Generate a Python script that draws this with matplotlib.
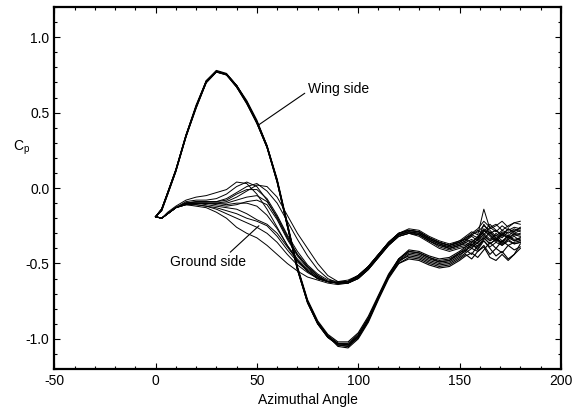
import matplotlib
matplotlib.use('Agg')
import matplotlib.pyplot as plt
from matplotlib.ticker import MultipleLocator

plt.rcParams['font.family'] = ['Liberation Sans', 'DejaVu Sans']
plt.rcParams['mathtext.fontset'] = 'custom'
plt.rcParams['mathtext.rm'] = 'Liberation Sans'
plt.rcParams['axes.unicode_minus'] = False

# azimuthal angle of the pressure taps
angle = [0, 3, 6, 10, 15, 20, 25, 30, 35, 40, 45, 50, 55, 60, 65, 70, 75, 80, 85, 90,
         95, 100, 105, 110, 115, 120, 125, 130, 135, 140, 145, 150,
         153, 156, 159, 162, 165, 168, 171, 174, 177, 180]

# Cp on the wing side, one list per spanwise station
wing_side = [
    [-0.19, -0.14, -0.03, 0.12, 0.35, 0.54, 0.71, 0.775, 0.755, 0.68, 0.57, 0.44, 0.28, 0.05, -0.24, -0.53, -0.75, -0.89, -0.98, -1.04,
     -1.05, -0.99, -0.88, -0.73, -0.58, -0.47, -0.41, -0.42, -0.45, -0.47, -0.46, -0.42,
     -0.39, -0.36, -0.33, -0.28, -0.31, -0.35, -0.30, -0.33, -0.31, -0.32],
    [-0.19, -0.14, -0.03, 0.12, 0.34, 0.54, 0.70, 0.77, 0.755, 0.68, 0.57, 0.44, 0.27, 0.04, -0.25, -0.54, -0.76, -0.90, -0.99, -1.03,
     -1.03, -0.97, -0.86, -0.72, -0.58, -0.48, -0.43, -0.44, -0.47, -0.49, -0.48, -0.44,
     -0.42, -0.37, -0.40, -0.34, -0.29, -0.33, -0.36, -0.31, -0.35, -0.33],
    [-0.19, -0.15, -0.04, 0.11, 0.34, 0.53, 0.70, 0.77, 0.75, 0.67, 0.56, 0.43, 0.27, 0.04, -0.25, -0.54, -0.76, -0.90, -0.99, -1.04,
     -1.04, -0.98, -0.87, -0.73, -0.59, -0.49, -0.44, -0.45, -0.48, -0.50, -0.49, -0.45,
     -0.41, -0.44, -0.38, -0.35, -0.40, -0.45, -0.42, -0.47, -0.44, -0.40],
    [-0.19, -0.14, -0.03, 0.12, 0.35, 0.55, 0.71, 0.78, 0.76, 0.68, 0.58, 0.45, 0.28, 0.06, -0.23, -0.52, -0.74, -0.88, -0.97, -1.02,
     -1.02, -0.96, -0.85, -0.71, -0.57, -0.47, -0.42, -0.43, -0.46, -0.48, -0.47, -0.43,
     -0.40, -0.38, -0.34, -0.24, -0.30, -0.28, -0.32, -0.27, -0.29, -0.26],
    [-0.19, -0.15, -0.04, 0.11, 0.34, 0.54, 0.70, 0.77, 0.755, 0.67, 0.57, 0.43, 0.27, 0.05, -0.24, -0.53, -0.75, -0.89, -0.98, -1.03,
     -1.04, -0.98, -0.87, -0.72, -0.58, -0.48, -0.45, -0.46, -0.49, -0.51, -0.50, -0.46,
     -0.43, -0.40, -0.42, -0.38, -0.44, -0.40, -0.43, -0.38, -0.41, -0.39],
    [-0.19, -0.14, -0.03, 0.12, 0.35, 0.54, 0.71, 0.775, 0.755, 0.68, 0.57, 0.44, 0.28, 0.05, -0.24, -0.53, -0.75, -0.89, -0.98, -1.05,
     -1.06, -1.00, -0.89, -0.74, -0.60, -0.50, -0.46, -0.47, -0.50, -0.52, -0.51, -0.47,
     -0.44, -0.47, -0.42, -0.39, -0.46, -0.48, -0.44, -0.48, -0.44, -0.37],
    [-0.19, -0.15, -0.04, 0.11, 0.34, 0.53, 0.70, 0.77, 0.75, 0.67, 0.56, 0.43, 0.27, 0.04, -0.25, -0.54, -0.76, -0.90, -0.99, -1.04,
     -1.05, -0.99, -0.88, -0.73, -0.59, -0.50, -0.47, -0.48, -0.51, -0.53, -0.52, -0.48,
     -0.45, -0.43, -0.46, -0.41, -0.36, -0.40, -0.35, -0.38, -0.36, -0.35],
    [-0.19, -0.14, -0.03, 0.12, 0.35, 0.54, 0.71, 0.775, 0.755, 0.68, 0.57, 0.44, 0.28, 0.05, -0.24, -0.53, -0.75, -0.89, -0.98, -1.03,
     -1.04, -0.98, -0.87, -0.72, -0.58, -0.47, -0.42, -0.43, -0.46, -0.49, -0.48, -0.43,
     -0.41, -0.39, -0.36, -0.33, -0.37, -0.34, -0.38, -0.35, -0.37, -0.36],
]

# Cp on the ground side
ground_side = [
    [-0.19, -0.20, -0.16, -0.12, -0.08, -0.06, -0.05, -0.03, -0.01, 0.04, 0.03, -0.04, -0.14, -0.26, -0.38, -0.48, -0.55, -0.60, -0.62, -0.63,
     -0.62, -0.58, -0.52, -0.44, -0.36, -0.30, -0.28, -0.29, -0.33, -0.36, -0.38, -0.36,
     -0.33, -0.30, -0.27, -0.22, -0.26, -0.24, -0.28, -0.25, -0.23, -0.24],
    [-0.19, -0.20, -0.17, -0.13, -0.09, -0.08, -0.08, -0.07, -0.04, 0.01, 0.04, 0.01, -0.08, -0.20, -0.33, -0.44, -0.52, -0.58, -0.62, -0.63,
     -0.62, -0.59, -0.53, -0.45, -0.37, -0.31, -0.29, -0.30, -0.34, -0.37, -0.39, -0.37,
     -0.35, -0.31, -0.33, -0.29, -0.24, -0.28, -0.31, -0.27, -0.30, -0.28],
    [-0.19, -0.20, -0.17, -0.13, -0.10, -0.09, -0.09, -0.09, -0.07, -0.03, 0.01, 0.03, -0.02, -0.10, -0.22, -0.34, -0.45, -0.54, -0.60, -0.63,
     -0.63, -0.59, -0.53, -0.45, -0.37, -0.31, -0.29, -0.31, -0.35, -0.38, -0.40, -0.38,
     -0.36, -0.34, -0.37, -0.32, -0.35, -0.30, -0.33, -0.29, -0.31, -0.30],
    [-0.19, -0.20, -0.17, -0.13, -0.10, -0.10, -0.10, -0.10, -0.09, -0.06, -0.02, 0.02, 0.01, -0.06, -0.18, -0.30, -0.40, -0.50, -0.58, -0.62,
     -0.62, -0.58, -0.52, -0.44, -0.36, -0.30, -0.28, -0.29, -0.33, -0.36, -0.38, -0.35,
     -0.32, -0.29, -0.31, -0.14, -0.27, -0.25, -0.22, -0.26, -0.23, -0.22],
    [-0.19, -0.20, -0.17, -0.13, -0.10, -0.09, -0.09, -0.09, -0.08, -0.04, -0.01, -0.01, -0.07, -0.18, -0.31, -0.42, -0.51, -0.57, -0.61, -0.62,
     -0.61, -0.58, -0.52, -0.44, -0.36, -0.30, -0.27, -0.28, -0.32, -0.35, -0.37, -0.35,
     -0.34, -0.36, -0.32, -0.27, -0.30, -0.34, -0.29, -0.32, -0.28, -0.27],
    [-0.19, -0.20, -0.17, -0.13, -0.10, -0.10, -0.10, -0.10, -0.10, -0.08, -0.06, -0.05, -0.09, -0.19, -0.32, -0.44, -0.52, -0.58, -0.62, -0.63,
     -0.63, -0.60, -0.54, -0.46, -0.38, -0.32, -0.30, -0.31, -0.35, -0.38, -0.40, -0.38,
     -0.37, -0.40, -0.36, -0.30, -0.34, -0.31, -0.35, -0.32, -0.34, -0.33],
    [-0.19, -0.20, -0.17, -0.13, -0.10, -0.10, -0.10, -0.11, -0.12, -0.11, -0.09, -0.08, -0.11, -0.21, -0.34, -0.45, -0.53, -0.59, -0.62, -0.63,
     -0.62, -0.59, -0.53, -0.45, -0.37, -0.31, -0.29, -0.30, -0.34, -0.37, -0.39, -0.37,
     -0.35, -0.32, -0.35, -0.28, -0.32, -0.36, -0.31, -0.33, -0.30, -0.31],
    [-0.19, -0.20, -0.17, -0.13, -0.11, -0.10, -0.10, -0.10, -0.11, -0.10, -0.10, -0.12, -0.18, -0.27, -0.38, -0.47, -0.54, -0.59, -0.62, -0.63,
     -0.62, -0.58, -0.52, -0.44, -0.36, -0.30, -0.28, -0.29, -0.33, -0.36, -0.38, -0.36,
     -0.34, -0.31, -0.29, -0.25, -0.28, -0.32, -0.28, -0.30, -0.27, -0.29],
    [-0.19, -0.20, -0.17, -0.13, -0.11, -0.11, -0.12, -0.13, -0.15, -0.17, -0.20, -0.22, -0.25, -0.32, -0.41, -0.49, -0.55, -0.60, -0.62, -0.63,
     -0.63, -0.60, -0.54, -0.46, -0.38, -0.32, -0.30, -0.31, -0.35, -0.39, -0.41, -0.39,
     -0.38, -0.35, -0.39, -0.33, -0.37, -0.34, -0.36, -0.33, -0.35, -0.34],
    [-0.19, -0.20, -0.17, -0.13, -0.11, -0.11, -0.12, -0.14, -0.17, -0.20, -0.23, -0.26, -0.30, -0.36, -0.44, -0.51, -0.56, -0.60, -0.62, -0.63,
     -0.62, -0.59, -0.53, -0.45, -0.37, -0.31, -0.29, -0.30, -0.34, -0.37, -0.40, -0.38,
     -0.36, -0.38, -0.34, -0.31, -0.35, -0.33, -0.37, -0.34, -0.32, -0.35],
    [-0.19, -0.20, -0.17, -0.13, -0.11, -0.12, -0.13, -0.16, -0.20, -0.26, -0.30, -0.33, -0.38, -0.44, -0.50, -0.55, -0.59, -0.61, -0.63, -0.64,
     -0.63, -0.60, -0.54, -0.46, -0.38, -0.32, -0.30, -0.32, -0.36, -0.40, -0.42, -0.40,
     -0.39, -0.37, -0.41, -0.35, -0.39, -0.36, -0.38, -0.34, -0.37, -0.36],
    [-0.19, -0.20, -0.17, -0.13, -0.10, -0.10, -0.11, -0.12, -0.13, -0.14, -0.17, -0.21, -0.24, -0.30, -0.39, -0.48, -0.55, -0.60, -0.62, -0.63,
     -0.62, -0.58, -0.52, -0.44, -0.36, -0.30, -0.28, -0.29, -0.33, -0.36, -0.38, -0.36,
     -0.33, -0.31, -0.28, -0.31, -0.26, -0.29, -0.25, -0.28, -0.26, -0.27],
]

fig = plt.figure(figsize=(5.77, 4.17), dpi=100)
ax = fig.add_axes([0.094, 0.115, 0.878, 0.868])

for cp in wing_side:
    ax.plot(angle, cp, color='black', linewidth=0.8)
for cp in ground_side:
    ax.plot(angle, cp, color='black', linewidth=0.7)

ax.set_xlim(-50, 200)
ax.set_ylim(-1.2, 1.2)
ax.xaxis.set_major_locator(MultipleLocator(50))
ax.xaxis.set_minor_locator(MultipleLocator(10))
ax.yaxis.set_major_locator(MultipleLocator(0.5))
ax.yaxis.set_minor_locator(MultipleLocator(0.1))
ax.yaxis.set_major_formatter(plt.FormatStrFormatter('%.1f'))
ax.tick_params(which='both', direction='in', top=True, right=True, labelsize=10, width=0.8)
ax.tick_params(which='major', length=4)
ax.tick_params(which='minor', length=2)
for s in ax.spines.values():
    s.set_linewidth(1.6)

ax.set_xlabel('Azimuthal Angle', fontsize=10)
ax.set_ylabel(r'C$_\mathregular{p}$', fontsize=10, rotation=0)
ax.yaxis.set_label_coords(-0.065, 0.585)

ax.annotate('Wing side', xy=(51, 0.42), xytext=(75, 0.66), fontsize=10,
            ha='left', va='center',
            arrowprops=dict(arrowstyle='-', color='black', linewidth=0.8, shrinkA=0, shrinkB=0,
                            relpos=(0, 0.3)))
ax.annotate('Ground side', xy=(51, -0.25), xytext=(26, -0.49), fontsize=10,
            ha='center', va='center',
            arrowprops=dict(arrowstyle='-', color='black', linewidth=0.8, shrinkA=0, shrinkB=0,
                            relpos=(0.75, 1.0)))

fig.savefig('out.png', dpi=100)
